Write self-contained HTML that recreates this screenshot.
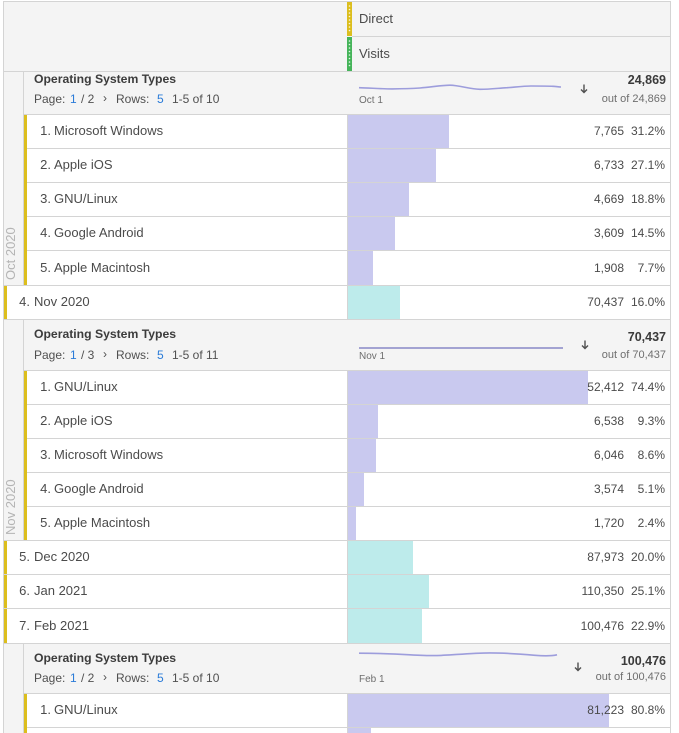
<!DOCTYPE html>
<html><head><meta charset="utf-8">
<style>
*{margin:0;padding:0;box-sizing:border-box}
html,body{width:679px;height:733px;overflow:hidden;background:#fff}
body{position:relative;font-family:"Liberation Sans",sans-serif;color:#4b4b4b}
div,svg{position:absolute}
.h{height:1px;background:#d4d4d4}
.v{width:1px;background:#d4d4d4}
.g{background:#f4f4f4}
.t{font-size:13px;line-height:16px;white-space:nowrap}
.n{font-size:12px;line-height:16px;white-space:nowrap;text-align:right}
.bp{background:#c9c9ef}
.bc{background:#bdebeb}
.y{background:#dcbe1e}
.ost{font-size:12.2px;font-weight:bold;line-height:16px;white-space:nowrap;color:#3c3c3c}
.pg{font-size:12px;line-height:16px;white-space:nowrap;color:#505050}
.bl{color:#2a7bd8}
.sl{font-size:10px;line-height:12px;color:#6e6e6e;white-space:nowrap}
.tv{font-size:12.5px;font-weight:bold;line-height:16px;text-align:right;color:#3a3a3a;white-space:nowrap}
.to{font-size:11px;line-height:14px;text-align:right;color:#6e6e6e;white-space:nowrap}
.vt{font-size:13px;line-height:14px;color:#b4b4b4;white-space:nowrap;transform-origin:0 0;transform:rotate(-90deg)}
</style></head><body>

<!-- HEADER -->
<div class="g" style="left:4px;top:2px;width:666px;height:69px"></div>
<div class="h" style="left:3px;top:1px;width:668px"></div>
<div class="h" style="left:352px;top:36px;width:319px"></div>
<div class="h" style="left:3px;top:71px;width:668px"></div>
<div style="left:347px;top:2px;width:5px;height:34px;background:#dcbe1e"></div>
<div style="left:347px;top:37px;width:5px;height:34px;background:#45b45a"></div>
<svg style="left:347px;top:2px" width="5" height="69">
<g fill="#fff" opacity="0.85">
<circle cx="2.5" cy="4" r="0.8"/><circle cx="2.5" cy="7.5" r="0.8"/><circle cx="2.5" cy="11" r="0.8"/><circle cx="2.5" cy="14.5" r="0.8"/><circle cx="2.5" cy="18" r="0.8"/><circle cx="2.5" cy="21.5" r="0.8"/><circle cx="2.5" cy="25" r="0.8"/><circle cx="2.5" cy="28.5" r="0.8"/>
<circle cx="2.5" cy="39" r="0.8"/><circle cx="2.5" cy="42.5" r="0.8"/><circle cx="2.5" cy="46" r="0.8"/><circle cx="2.5" cy="49.5" r="0.8"/><circle cx="2.5" cy="53" r="0.8"/><circle cx="2.5" cy="56.5" r="0.8"/><circle cx="2.5" cy="60" r="0.8"/><circle cx="2.5" cy="63.5" r="0.8"/>
</g></svg>
<div class="t" style="left:359px;top:11px">Direct</div>
<div class="t" style="left:359px;top:46px">Visits</div>

<!-- outer verticals -->
<div class="v" style="left:3px;top:1px;height:732px"></div>
<div class="v" style="left:670px;top:1px;height:732px"></div>

<!-- GROUP 1 (Oct 2020) -->
<div class="g" style="left:4px;top:72px;width:19px;height:213px"></div>
<div class="v" style="left:23px;top:71px;height:214px"></div>
<div class="g" style="left:24px;top:72px;width:646px;height:42px"></div>
<div class="ost" style="left:34px;top:71px">Operating System Types</div>
<div class="pg" style="left:34px;top:91px">Page:</div>
<div class="pg bl" style="left:70px;top:91px">1</div>
<div class="pg" style="left:81px;top:91px">/ 2</div>
<div class="pg" style="left:103px;top:90px">›</div>
<div class="pg" style="left:116px;top:91px">Rows:</div>
<div class="pg bl" style="left:157px;top:91px">5</div>
<div class="pg" style="left:172px;top:91px">1-5 of 10</div>
<div class="sl" style="left:359px;top:95px">Oct 1</div>
<svg style="left:580px;top:84px" width="8" height="10"><path d="M4,0.5 V8.5 M1,5.5 L4,8.5 L7,5.5" fill="none" stroke="#505050" stroke-width="1.4"/></svg>
<div class="tv" style="right:13px;top:72px">24,869</div>
<div class="to" style="right:13px;top:92px">out of 24,869</div>
<div class="h" style="left:23px;top:114px;width:648px"></div>

<div class="y" style="left:24px;top:115px;width:3px;height:170px"></div>
<div class="v" style="left:347px;top:114px;height:205px"></div>

<div class="bp" style="left:348px;top:115px;width:101px;height:33px"></div>
<div class="bp" style="left:348px;top:149px;width:88px;height:33px"></div>
<div class="bp" style="left:348px;top:183px;width:61px;height:33px"></div>
<div class="bp" style="left:348px;top:217px;width:47px;height:33px"></div>
<div class="bp" style="left:348px;top:251px;width:25px;height:34px"></div>
<div class="h" style="left:27px;top:148px;width:644px"></div>
<div class="h" style="left:27px;top:182px;width:644px"></div>
<div class="h" style="left:27px;top:216px;width:644px"></div>
<div class="h" style="left:27px;top:250px;width:644px"></div>

<div class="t" style="right:628px;top:123px">1.</div><div class="t" style="left:54px;top:123px">Microsoft Windows</div><div class="n" style="right:55px;top:123px">7,765</div><div class="n" style="right:14px;top:123px">31.2%</div>
<div class="t" style="right:628px;top:157px">2.</div><div class="t" style="left:54px;top:157px">Apple iOS</div><div class="n" style="right:55px;top:157px">6,733</div><div class="n" style="right:14px;top:157px">27.1%</div>
<div class="t" style="right:628px;top:191px">3.</div><div class="t" style="left:54px;top:191px">GNU/Linux</div><div class="n" style="right:55px;top:191px">4,669</div><div class="n" style="right:14px;top:191px">18.8%</div>
<div class="t" style="right:628px;top:225px">4.</div><div class="t" style="left:54px;top:225px">Google Android</div><div class="n" style="right:55px;top:225px">3,609</div><div class="n" style="right:14px;top:225px">14.5%</div>
<div class="t" style="right:628px;top:260px">5.</div><div class="t" style="left:54px;top:260px">Apple Macintosh</div><div class="n" style="right:55px;top:260px">1,908</div><div class="n" style="right:14px;top:260px">7.7%</div>
<div class="vt" style="left:4px;top:280px">Oct 2020</div>

<div class="h" style="left:3px;top:285px;width:668px"></div>

<!-- Nov 2020 row -->
<div class="y" style="left:4px;top:286px;width:3px;height:33px"></div>
<div class="bc" style="left:348px;top:286px;width:52px;height:33px"></div>
<div class="t" style="right:649px;top:294px">4.</div><div class="t" style="left:34px;top:294px">Nov 2020</div><div class="n" style="right:55px;top:294px">70,437</div><div class="n" style="right:14px;top:294px">16.0%</div>
<div class="h" style="left:3px;top:319px;width:668px"></div>

<!-- GROUP 2 -->
<div class="g" style="left:4px;top:320px;width:19px;height:220px"></div>
<div class="v" style="left:23px;top:319px;height:221px"></div>
<div class="g" style="left:24px;top:320px;width:646px;height:50px"></div>
<div class="ost" style="left:34px;top:326px">Operating System Types</div>
<div class="pg" style="left:34px;top:347px">Page:</div>
<div class="pg bl" style="left:70px;top:347px">1</div>
<div class="pg" style="left:81px;top:347px">/ 3</div>
<div class="pg" style="left:103px;top:346px">›</div>
<div class="pg" style="left:116px;top:347px">Rows:</div>
<div class="pg bl" style="left:157px;top:347px">5</div>
<div class="pg" style="left:172px;top:347px">1-5 of 11</div>
<div class="sl" style="left:359px;top:351px">Nov 1</div>
<svg style="left:581px;top:340px" width="8" height="10"><path d="M4,0.5 V8.5 M1,5.5 L4,8.5 L7,5.5" fill="none" stroke="#505050" stroke-width="1.4"/></svg>
<div class="tv" style="right:13px;top:329px">70,437</div>
<div class="to" style="right:13px;top:348px">out of 70,437</div>
<div class="h" style="left:23px;top:370px;width:648px"></div>

<div class="y" style="left:24px;top:371px;width:3px;height:169px"></div>
<div class="v" style="left:347px;top:370px;height:273px"></div>

<div class="bp" style="left:348px;top:371px;width:240px;height:33px"></div>
<div class="bp" style="left:348px;top:405px;width:30px;height:33px"></div>
<div class="bp" style="left:348px;top:439px;width:28px;height:33px"></div>
<div class="bp" style="left:348px;top:473px;width:16px;height:33px"></div>
<div class="bp" style="left:348px;top:507px;width:8px;height:33px"></div>
<div class="h" style="left:27px;top:404px;width:644px"></div>
<div class="h" style="left:27px;top:438px;width:644px"></div>
<div class="h" style="left:27px;top:472px;width:644px"></div>
<div class="h" style="left:27px;top:506px;width:644px"></div>

<div class="t" style="right:628px;top:379px">1.</div><div class="t" style="left:54px;top:379px">GNU/Linux</div><div class="n" style="right:55px;top:379px">52,412</div><div class="n" style="right:14px;top:379px">74.4%</div>
<div class="t" style="right:628px;top:413px">2.</div><div class="t" style="left:54px;top:413px">Apple iOS</div><div class="n" style="right:55px;top:413px">6,538</div><div class="n" style="right:14px;top:413px">9.3%</div>
<div class="t" style="right:628px;top:447px">3.</div><div class="t" style="left:54px;top:447px">Microsoft Windows</div><div class="n" style="right:55px;top:447px">6,046</div><div class="n" style="right:14px;top:447px">8.6%</div>
<div class="t" style="right:628px;top:481px">4.</div><div class="t" style="left:54px;top:481px">Google Android</div><div class="n" style="right:55px;top:481px">3,574</div><div class="n" style="right:14px;top:481px">5.1%</div>
<div class="t" style="right:628px;top:515px">5.</div><div class="t" style="left:54px;top:515px">Apple Macintosh</div><div class="n" style="right:55px;top:515px">1,720</div><div class="n" style="right:14px;top:515px">2.4%</div>
<div class="vt" style="left:4px;top:535px">Nov 2020</div>

<div class="h" style="left:3px;top:540px;width:668px"></div>

<!-- Dec / Jan / Feb -->
<div class="y" style="left:4px;top:541px;width:3px;height:102px"></div>
<div class="bc" style="left:348px;top:541px;width:65px;height:33px"></div>
<div class="bc" style="left:348px;top:575px;width:81px;height:33px"></div>
<div class="bc" style="left:348px;top:609px;width:74px;height:34px"></div>
<div class="h" style="left:3px;top:574px;width:668px"></div>
<div class="h" style="left:3px;top:608px;width:668px"></div>
<div class="t" style="right:649px;top:549px">5.</div><div class="t" style="left:34px;top:549px">Dec 2020</div><div class="n" style="right:55px;top:549px">87,973</div><div class="n" style="right:14px;top:549px">20.0%</div>
<div class="t" style="right:649px;top:583px">6.</div><div class="t" style="left:34px;top:583px">Jan 2021</div><div class="n" style="right:55px;top:583px">110,350</div><div class="n" style="right:14px;top:583px">25.1%</div>
<div class="t" style="right:649px;top:618px">7.</div><div class="t" style="left:34px;top:618px">Feb 2021</div><div class="n" style="right:55px;top:618px">100,476</div><div class="n" style="right:14px;top:618px">22.9%</div>
<div class="h" style="left:3px;top:643px;width:668px"></div>

<!-- GROUP 3 -->
<div class="g" style="left:4px;top:644px;width:19px;height:89px"></div>
<div class="v" style="left:23px;top:643px;height:90px"></div>
<div class="g" style="left:24px;top:644px;width:646px;height:49px"></div>
<div class="ost" style="left:34px;top:650px">Operating System Types</div>
<div class="pg" style="left:34px;top:670px">Page:</div>
<div class="pg bl" style="left:70px;top:670px">1</div>
<div class="pg" style="left:81px;top:670px">/ 2</div>
<div class="pg" style="left:103px;top:669px">›</div>
<div class="pg" style="left:116px;top:670px">Rows:</div>
<div class="pg bl" style="left:157px;top:670px">5</div>
<div class="pg" style="left:172px;top:670px">1-5 of 10</div>
<div class="sl" style="left:359px;top:674px">Feb 1</div>
<svg style="left:574px;top:662px" width="8" height="10"><path d="M4,0.5 V8.5 M1,5.5 L4,8.5 L7,5.5" fill="none" stroke="#505050" stroke-width="1.4"/></svg>
<div class="tv" style="right:13px;top:653px">100,476</div>
<div class="to" style="right:13px;top:670px">out of 100,476</div>
<div class="h" style="left:23px;top:693px;width:648px"></div>

<div class="y" style="left:24px;top:694px;width:3px;height:39px"></div>
<div class="v" style="left:347px;top:693px;height:40px"></div>
<div class="bp" style="left:348px;top:694px;width:261px;height:33px"></div>
<div class="bp" style="left:348px;top:728px;width:23px;height:5px"></div>
<div class="h" style="left:27px;top:727px;width:644px"></div>
<div class="t" style="right:628px;top:702px">1.</div><div class="t" style="left:54px;top:702px">GNU/Linux</div><div class="n" style="right:55px;top:702px">81,223</div><div class="n" style="right:14px;top:702px">80.8%</div>

<!-- sparklines (on top of backgrounds) -->
<svg style="left:0;top:0" width="679" height="733">
<path d="M359,87.7 C370,88 382,88.9 392,88.9 C402,88.8 412,88.5 420,88 C432,87 442,85.2 450,85.2 C460,85.4 470,89.2 480,89.3 C490,89.3 498,88.2 507,87.7 C516,87 524,86 531,86 C540,86 548,86 553,86.3 C557,86.6 559,87 561,87" fill="none" stroke="#9d9ddc" stroke-width="1.6"/>
<line x1="359" y1="348" x2="563" y2="348" stroke="#a3a3d2" stroke-width="2"/>
<path d="M359,653.2 C375,653.3 392,653.8 410,654.8 C420,655.3 428,655.7 435,655.6 C450,655.3 470,653 490,652.9 C505,652.9 520,654 535,655.3 C542,655.9 547,656 552,655.6 C555,655.3 556,655 557,654.8" fill="none" stroke="#9d9ddc" stroke-width="1.6"/>
</svg>

</body></html>
